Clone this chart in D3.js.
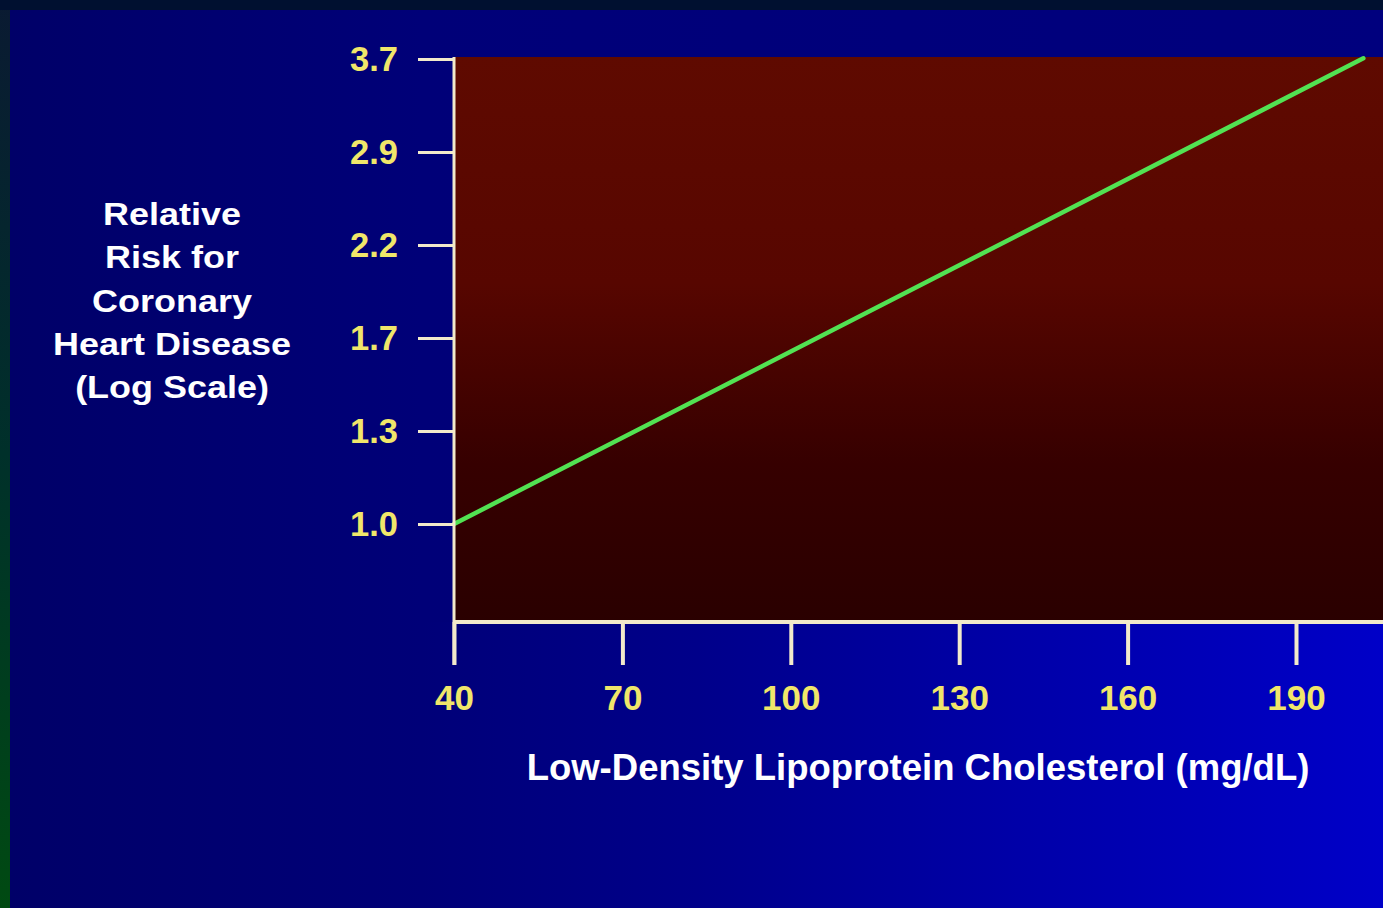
<!DOCTYPE html>
<html>
<head>
<meta charset="utf-8">
<script src="https://cdn.jsdelivr.net/npm/d3@7"></script>
<style>
  html, body { margin: 0; padding: 0; background: #000066; overflow: hidden; }
  svg { display: block; }
  text { font-family: "Liberation Sans", Arial, Helvetica, sans-serif; font-weight: bold; }
</style>
</head>
<body>
<svg id="chart" width="1383" height="908"></svg>
<script>
// ---- data ----
const ldlTicks = [40, 70, 100, 130, 160, 190];
const riskTickValues = [1.0, 1.3, 1.69, 2.197, 2.8561, 3.7129];
const riskTickLabels = ["1.0", "1.3", "1.7", "2.2", "2.9", "3.7"];
const lineLdl = [40, 202];
const lineRisk = [1.0, 3.72];
const yTitleLines = ["Relative", "Risk for", "Coronary", "Heart Disease", "(Log Scale)"];
const xTitle = "Low-Density Lipoprotein Cholesterol (mg/dL)";

// ---- layout ----
const W = 1383, H = 908;
const plot = { left: 454, top: 57, right: 1383, bottom: 622 };
const axisColor = "#f2eacb";
const tickColor = "#f0e66a";

const svg = d3.select("#chart");
const defs = svg.append("defs");

const bgGrad = defs.append("linearGradient").attr("id", "bg").attr("x1", 0).attr("x2", 1).attr("y1", 0).attr("y2", 0);
[[0, "#000068"], [0.3, "#000078"], [1, "#00007e"]].forEach(s => bgGrad.append("stop").attr("offset", s[0]).attr("stop-color", s[1]));

const lowGrad = defs.append("linearGradient").attr("id", "low").attr("x1", 0).attr("x2", 1).attr("y1", 0).attr("y2", 0);
[[0, "#000068"], [0.3, "#000078"], [0.5, "#00008a"], [0.75, "#0000aa"], [1, "#0000c8"]].forEach(s => lowGrad.append("stop").attr("offset", s[0]).attr("stop-color", s[1]));

const stripGrad = defs.append("linearGradient").attr("id", "strip").attr("x1", 0).attr("x2", 0).attr("y1", 0).attr("y2", 1);
[[0, "#0a1a32"], [0.5, "#00302a"], [1, "#004a12"]].forEach(s => stripGrad.append("stop").attr("offset", s[0]).attr("stop-color", s[1]));

const plotGrad = defs.append("linearGradient").attr("id", "plotbg").attr("x1", 0).attr("x2", 0).attr("y1", 0).attr("y2", 1);
[[0, "#5f0a00"], [0.4, "#570600"], [0.72, "#360000"], [1, "#2a0000"]].forEach(s => plotGrad.append("stop").attr("offset", s[0]).attr("stop-color", s[1]));

// background
svg.append("rect").attr("x", 10).attr("y", 10).attr("width", W - 10).attr("height", H - 10).attr("fill", "url(#bg)");
svg.append("rect").attr("x", 10).attr("y", plot.bottom).attr("width", W - 10).attr("height", H - plot.bottom).attr("fill", "url(#low)");
svg.append("rect").attr("x", 0).attr("y", 0).attr("width", 10).attr("height", H).attr("fill", "url(#strip)");
svg.append("rect").attr("x", 0).attr("y", 0).attr("width", W).attr("height", 10).attr("fill", "#001030");

// plot area
svg.append("rect").attr("x", plot.left).attr("y", plot.top)
  .attr("width", plot.right - plot.left).attr("height", plot.bottom - plot.top)
  .attr("fill", "url(#plotbg)");

// scales
const x = d3.scaleLinear().domain([40, 190]).range([454, 1296]);
const y = d3.scaleLog().domain([1.0, 3.7129]).range([524, 59]);

// line
const line = d3.line().x(d => x(d[0])).y(d => y(d[1]));
svg.append("path")
  .datum(lineLdl.map((v, i) => [v, lineRisk[i]]))
  .attr("d", line)
  .attr("fill", "none")
  .attr("stroke", "#52e252")
  .attr("stroke-width", 4.5)
  .attr("stroke-linecap", "round");

// y axis
const yAxis = d3.axisLeft(y).tickValues(riskTickValues)
  .tickFormat((d, i) => riskTickLabels[i]).tickSize(36).tickPadding(20).tickSizeOuter(0);
const gy = svg.append("g").attr("transform", `translate(${plot.left},0)`).call(yAxis);
gy.select(".domain").remove();
gy.selectAll(".tick line").attr("stroke", axisColor).attr("stroke-width", 3);
gy.selectAll(".tick text").attr("fill", tickColor).attr("font-size", 34.5).attr("dy", "0.34em")
  .attr("font-family", "'Liberation Sans', Arial, sans-serif").attr("font-weight", "bold");
svg.append("line").attr("x1", plot.left).attr("x2", plot.left).attr("y1", plot.top).attr("y2", plot.bottom + 43)
  .attr("stroke", axisColor).attr("stroke-width", 3);

// x axis
const xAxis = d3.axisBottom(x).tickValues(ldlTicks).tickSize(43).tickPadding(20).tickSizeOuter(0);
const gx = svg.append("g").attr("transform", `translate(0,${plot.bottom})`).call(xAxis);
gx.select(".domain").remove();
gx.selectAll(".tick line").attr("stroke", axisColor).attr("stroke-width", 4);
gx.selectAll(".tick text").attr("fill", tickColor).attr("font-size", 35)
  .attr("font-family", "'Liberation Sans', Arial, sans-serif").attr("font-weight", "bold");
svg.append("line").attr("x1", plot.left).attr("x2", plot.right).attr("y1", plot.bottom).attr("y2", plot.bottom)
  .attr("stroke", axisColor).attr("stroke-width", 4);

// y title
const yt = svg.append("g").attr("transform", "translate(172,0)");
yTitleLines.forEach((t, i) => {
  yt.append("text").attr("transform", `translate(0,${225 + i * 43.3}) scale(1.16,1)`)
    .attr("text-anchor", "middle").attr("fill", "#ffffff").attr("font-size", 31).text(t);
});

// x title
svg.append("text").attr("x", 918).attr("y", 780).attr("text-anchor", "middle")
  .attr("fill", "#ffffff").attr("font-size", 36.5).text(xTitle);
</script>
</body>
</html>
